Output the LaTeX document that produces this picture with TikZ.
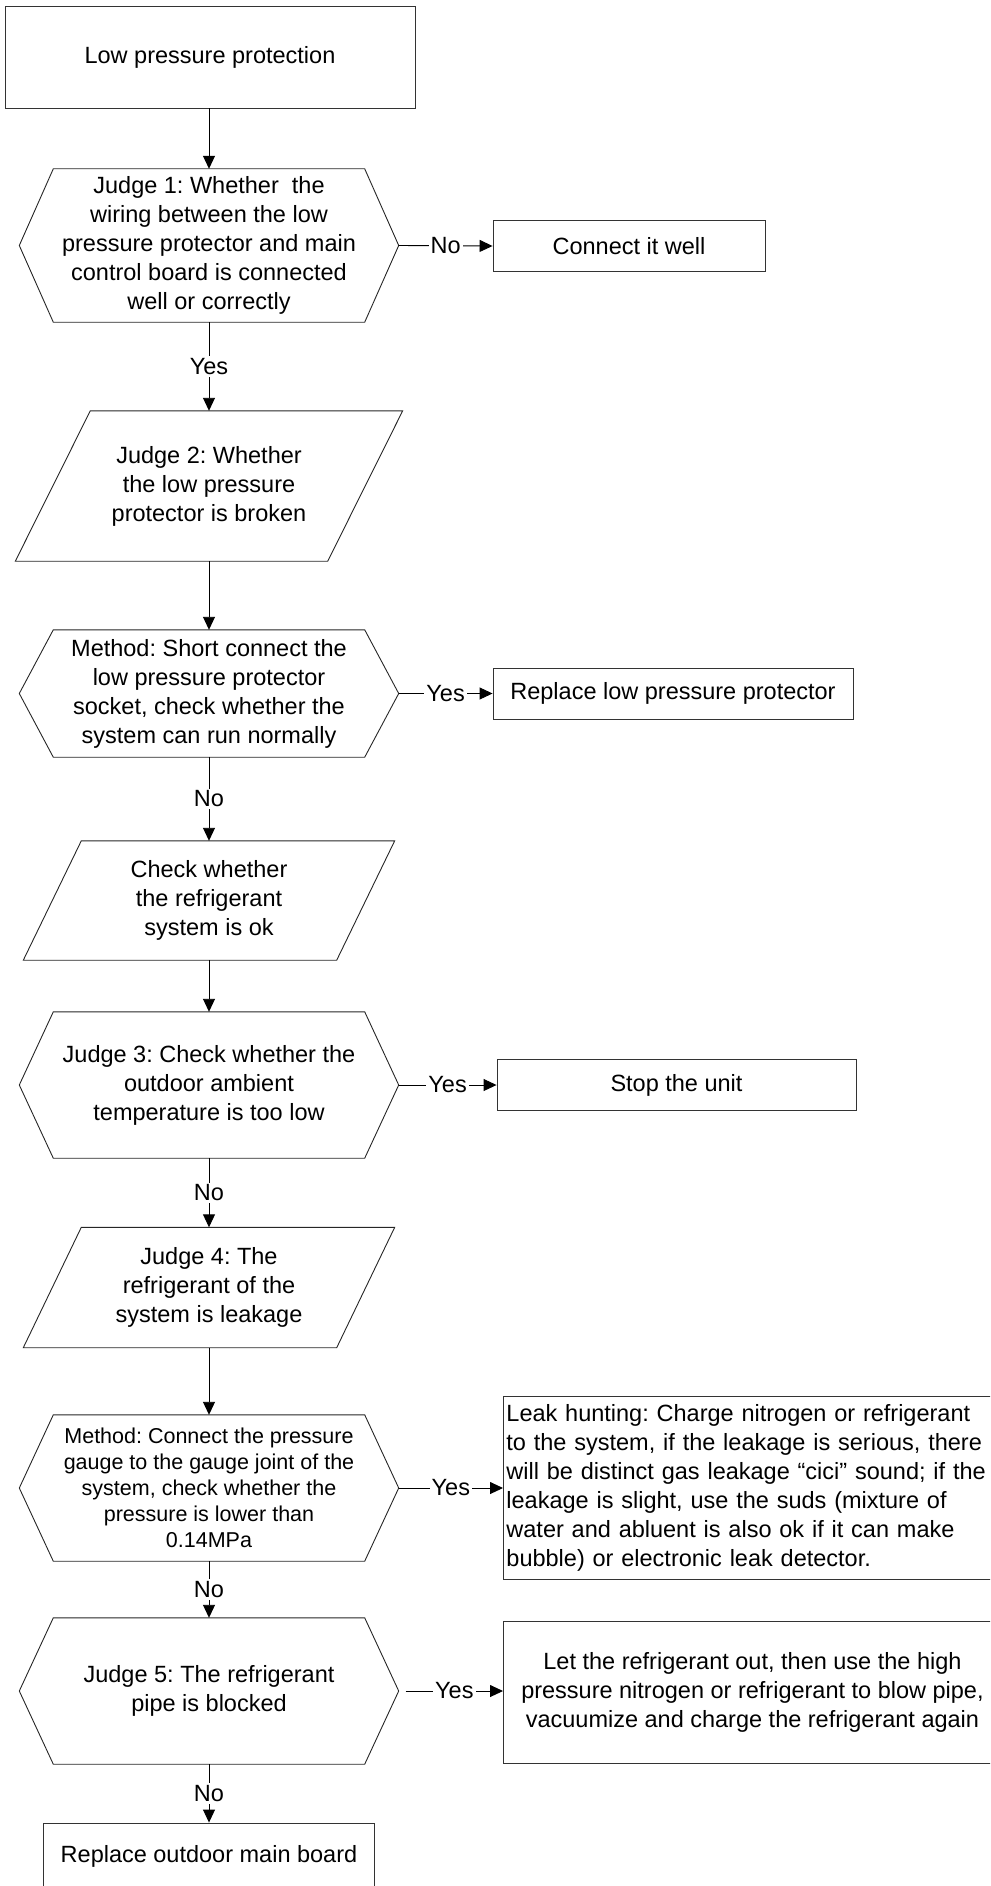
\documentclass[tikz,border=0pt]{standalone}
\usepackage{fontspec}
\setmainfont{Liberation Sans}
\usetikzlibrary{arrows.meta}
\frenchspacing
\newcommand\hexoutline[1]{\draw[outl] (#1.west) -- ([xshift=34pt]#1.north west) -- ([xshift=-34pt]#1.north east) -- (#1.east) -- ([xshift=-34pt]#1.south east) -- ([xshift=34pt]#1.south west) -- cycle;}
\newcommand\paraoutline[2]{\draw[outl] (#1.south west) -- ([xshift=#2]#1.north west) -- (#1.north east) -- ([xshift=-#2]#1.south east) -- cycle;}
\begin{document}
\frenchspacing
\begin{tikzpicture}[x=1pt,y=-1pt,
  font=\fontsize{23.5}{29}\selectfont\frenchspacing,
  box/.style={draw=black!80, line width=0.9pt, align=center, inner sep=0pt},
  shp/.style={align=center, inner sep=0pt},
  outl/.style={draw=black!85, line width=0.9pt},
  arr/.style={-{Triangle[length=13pt,width=12pt]}, line width=0.9pt},
  lbl/.style={fill=white, inner sep=2pt}
]
\useasboundingbox (0,0) rectangle (990,1886);
\clip (0,0) rectangle (990,1886);

% nodes
\node[box, minimum width=410pt, minimum height=102pt] (start) at (210,57) {Low pressure protection};

\node[shp, minimum width=379pt, minimum height=153pt] (h1) at (209,245.5) {Judge 1: Whether\ \ the\\wiring between the low\\pressure protector and main\\control board is connected\\well or correctly};
\hexoutline{h1}
\node[box, minimum width=272pt, minimum height=51pt] (c1) at (629,246) {Connect it well};

\node[shp, minimum width=387pt, minimum height=150pt] (p1) at (209,486) {Judge 2: Whether\\the low pressure\\protector is broken};
\paraoutline{p1}{75pt}

\node[shp, minimum width=379pt, minimum height=127pt] (h2) at (209,693.5) {Method: Short connect the\\low pressure protector\\socket, check whether the\\system can run normally};
\hexoutline{h2}
\node[box, minimum width=360pt, minimum height=51pt] (r1) at (673,693.5) {Replace low pressure protector};

\node[shp, minimum width=371pt, minimum height=119pt] (p2) at (209,900.5) {Check whether\\the refrigerant\\system is ok};
\paraoutline{p2}{58pt}

\node[shp, minimum width=379pt, minimum height=146pt] (h3) at (209,1085) {Judge 3: Check whether the\\outdoor ambient\\temperature is too low};
\hexoutline{h3}
\node[box, minimum width=359pt, minimum height=51pt] (s1) at (676.5,1085) {Stop the unit};

\node[shp, minimum width=371pt, minimum height=120pt] (p3) at (209,1287.5) {Judge 4: The\\refrigerant of the\\system is leakage};
\paraoutline{p3}{58pt}

\node[shp, minimum width=379pt, minimum height=146pt, font=\fontsize{21.5}{26}\selectfont\frenchspacing] (h4) at (209,1488) {Method: Connect the pressure\\gauge to the gauge joint of the\\system, check whether the\\pressure is lower than\\0.14MPa};
\hexoutline{h4}
\node[box, anchor=west, text width=495pt, inner xsep=3pt, minimum height=183pt, align=left] (leak) at (503,1487.5) {Leak hunting: Charge nitrogen or refrigerant\\to the system, if the leakage is serious, there\\will be distinct gas leakage “cici” sound; if the\\leakage is slight, use the suds (mixture of\\water and abluent is also ok if it can make\\bubble) or electronic leak detector.};

\node[shp, minimum width=379pt, minimum height=146pt] (h5) at (209,1691) {Judge 5: The refrigerant\\pipe is blocked};
\hexoutline{h5}
\node[box, anchor=west, minimum width=498pt, minimum height=142pt] (blow) at (503,1692) {Let the refrigerant out, then use the high\\pressure nitrogen or refrigerant to blow pipe,\\vacuumize and charge the refrigerant again};

\node[box, minimum width=331pt, minimum height=66pt] (final) at (209,1856) {Replace outdoor main board};

% connectors
\draw[arr] (start.south -| h1.north) -- (h1.north);
\draw[arr] (h1.east) -- node[lbl]{No} (c1.west);
\draw[arr] (h1.south) -- node[lbl]{Yes} (p1.north);
\draw[arr] (p1.south) -- (h2.north);
\draw[arr] (h2.east) -- node[lbl]{Yes} (r1.west);
\draw[arr] (h2.south) -- node[lbl]{No} (p2.north);
\draw[arr] (p2.south) -- (h3.north);
\draw[arr] (h3.east) -- node[lbl]{Yes} (s1.west);
\draw[arr] (h3.south) -- node[lbl]{No} (p3.north);
\draw[arr] (p3.south) -- (h4.north);
\draw[arr] (h4.east) -- node[lbl]{Yes} (h4.east -| leak.west);
\draw[arr] (h4.south) -- node[lbl]{No} (h5.north);
\draw[arr] ([xshift=7pt]h5.east) -- node[lbl]{Yes} (h5.east -| blow.west);
\draw[arr] (h5.south) -- node[lbl]{No} (final.north);
\end{tikzpicture}
\end{document}
